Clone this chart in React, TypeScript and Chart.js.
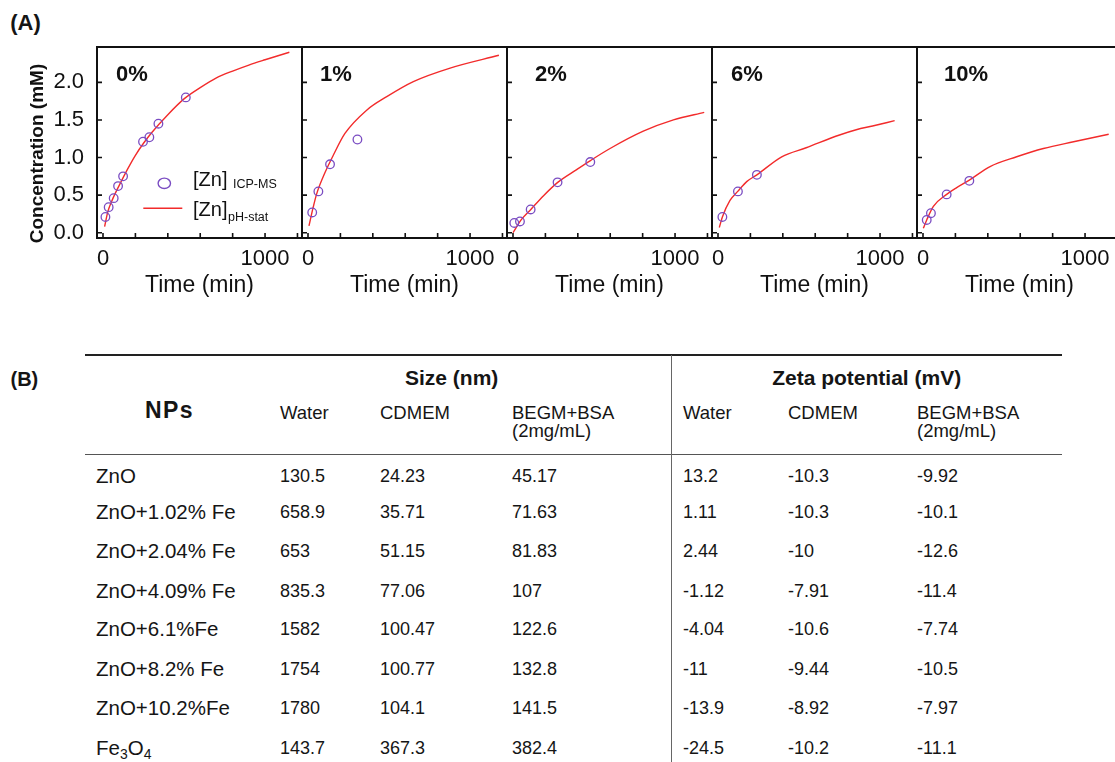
import React, { useEffect, useRef } from 'react';
import { Chart, registerables } from 'chart.js';

Chart.register(...registerables);

const FONT = '"Liberation Sans", Arial, Helvetica, sans-serif';
const RED = '#f22b2b';
const PURPLE = '#7a4cc2';
const INK = '#111111';

// ---------------- (A) dissolution kinetics data ----------------
const PANEL_LABELS = ['0%', '1%', '2%', '6%', '10%'];
const X_TICK_VALUES = [0, 200, 400, 600, 800, 1000, 1200];
const X_TICK_LABELED = [0, 1000];
const Y_TICK_VALUES = [0, 0.5, 1.0, 1.5, 2.0];

// 0 %
const ICP_TIME_0 = [15, 35, 66, 93, 124, 247, 286, 342, 511];
const ICP_CONC_0 = [0.21, 0.34, 0.46, 0.62, 0.75, 1.21, 1.27, 1.45, 1.80];
const PH_TIME_0 = [10, 30, 60, 100, 150, 200, 250, 300, 400, 500, 600, 700, 800, 900, 1000, 1150];
const PH_CONC_0 = [0.08, 0.28, 0.45, 0.63, 0.84, 1.03, 1.19, 1.33, 1.57, 1.78, 1.93, 2.06, 2.15, 2.23, 2.30, 2.40];

// 1 %
const ICP_TIME_1 = [26, 64, 136, 305];
const ICP_CONC_1 = [0.27, 0.55, 0.91, 1.24];
const PH_TIME_1 = [6, 30, 54, 105, 156, 228, 362, 486, 650, 877, 1178];
const PH_CONC_1 = [0.09, 0.32, 0.52, 0.80, 1.03, 1.32, 1.63, 1.81, 2.01, 2.19, 2.36];

// 2 %
const ICP_TIME_2 = [8, 43, 109, 275, 477];
const ICP_CONC_2 = [0.13, 0.15, 0.31, 0.67, 0.94];
const PH_TIME_2 = [0, 50, 110, 187, 276, 393, 478, 599, 804, 990, 1180];
const PH_CONC_2 = [0.0, 0.17, 0.31, 0.49, 0.67, 0.84, 0.96, 1.12, 1.35, 1.50, 1.60];

// 6 %
const ICP_TIME_6 = [27, 123, 240];
const ICP_CONC_6 = [0.21, 0.55, 0.77];
const PH_TIME_6 = [8, 27, 74, 122, 177, 240, 393, 544, 750, 853, 954, 1090];
const PH_CONC_6 = [0.07, 0.21, 0.43, 0.55, 0.68, 0.77, 1.01, 1.13, 1.30, 1.37, 1.42, 1.49];

// 10 %
const ICP_TIME_10 = [23, 49, 146, 286];
const ICP_CONC_10 = [0.17, 0.26, 0.51, 0.69];
const PH_TIME_10 = [2, 23, 64, 146, 208, 286, 414, 578, 743, 929, 1146];
const PH_CONC_10 = [0.06, 0.17, 0.35, 0.51, 0.60, 0.70, 0.88, 1.01, 1.12, 1.21, 1.31];

const PANELS = [
  { label: PANEL_LABELS[0], icpT: ICP_TIME_0, icpC: ICP_CONC_0, phT: PH_TIME_0, phC: PH_CONC_0 },
  { label: PANEL_LABELS[1], icpT: ICP_TIME_1, icpC: ICP_CONC_1, phT: PH_TIME_1, phC: PH_CONC_1 },
  { label: PANEL_LABELS[2], icpT: ICP_TIME_2, icpC: ICP_CONC_2, phT: PH_TIME_2, phC: PH_CONC_2 },
  { label: PANEL_LABELS[3], icpT: ICP_TIME_6, icpC: ICP_CONC_6, phT: PH_TIME_6, phC: PH_CONC_6 },
  { label: PANEL_LABELS[4], icpT: ICP_TIME_10, icpC: ICP_CONC_10, phT: PH_TIME_10, phC: PH_CONC_10 },
];

// ---------------- (B) table data ----------------
const NP_NAMES = ['ZnO', 'ZnO+1.02% Fe', 'ZnO+2.04% Fe', 'ZnO+4.09% Fe', 'ZnO+6.1%Fe', 'ZnO+8.2% Fe', 'ZnO+10.2%Fe', 'Fe3O4'];
const SIZE_WATER = [130.5, 658.9, 653, 835.3, 1582, 1754, 1780, 143.7];
const SIZE_CDMEM = [24.23, 35.71, 51.15, 77.06, 100.47, 100.77, 104.1, 367.3];
const SIZE_BEGM = [45.17, 71.63, 81.83, 107, 122.6, 132.8, 141.5, 382.4];
const ZETA_WATER = [13.2, 1.11, 2.44, -1.12, -4.04, -11, -13.9, -24.5];
const ZETA_CDMEM = [-10.3, -10.3, -10, -7.91, -10.6, -9.44, -8.92, -10.2];
const ZETA_BEGM = [-9.92, -10.1, -12.6, -11.4, -7.74, -10.5, -7.97, -11.1];
const MEDIA_HEADERS = ['Water', 'CDMEM', 'BEGM+BSA'];
const MEDIA_SUB = ['', '', '(2mg/mL)'];

// ---------------- layout ----------------
const PANEL_STEP = 205;
const AXIS_W = 97;
const PLOT_TOP = 47;
const CANVAS_W = 312;
const CANVAS_H = 300;
const X_AXIS_H = 62;
const LABEL_DX = [19, 18, 28, 19, 27];

const COL_X = [280, 380, 512, 683, 788, 917];
const NAME_X = 96;
const ROW_Y = [476, 511.5, 550.5, 590.5, 629, 669, 707.5, 747.5];

const decoPlugin = {
  id: 'deco',
  afterDraw(chart: any, _args: any, opts: any) {
    const { ctx, chartArea: a } = chart;
    const xs = chart.scales.x;
    const ys = chart.scales.y;
    ctx.save();
    ctx.strokeStyle = INK;
    ctx.lineWidth = 2;
    ctx.strokeRect(a.left, a.top, a.right - a.left, a.bottom - a.top);
    ctx.lineWidth = 1.6;
    ctx.beginPath();
    xs.ticks.forEach((t: any) => {
      const p = xs.getPixelForValue(t.value);
      ctx.moveTo(p, a.bottom);
      ctx.lineTo(p, a.bottom - 5);
    });
    ys.ticks.forEach((t: any) => {
      const p = ys.getPixelForValue(t.value);
      ctx.moveTo(a.left, p);
      ctx.lineTo(a.left + 5, p);
    });
    ctx.stroke();

    ctx.fillStyle = INK;
    ctx.font = `bold 22px ${FONT}`;
    ctx.textAlign = 'left';
    ctx.textBaseline = 'middle';
    ctx.fillText(opts.label, a.left + opts.labelDx, a.top + 28);

    if (opts.yTitle) {
      ctx.save();
      ctx.translate(38, 153.5);
      ctx.rotate(-Math.PI / 2);
      ctx.textAlign = 'center';
      ctx.textBaseline = 'middle';
      ctx.font = `bold 19px ${FONT}`;
      ctx.fillText(opts.yTitle, 0, 0);
      ctx.restore();
    }

    if (opts.legend) {
      const lx = a.left;
      const ly = a.top;
      ctx.strokeStyle = PURPLE;
      ctx.lineWidth = 1.4;
      ctx.beginPath();
      ctx.ellipse(lx + 67.3, ly + 136.3, 6.2, 5.2, 0, 0, Math.PI * 2);
      ctx.stroke();
      ctx.strokeStyle = RED;
      ctx.lineWidth = 1.4;
      ctx.beginPath();
      ctx.moveTo(lx + 46.3, ly + 161.3);
      ctx.lineTo(lx + 85.3, ly + 161.3);
      ctx.stroke();
      ctx.fillStyle = INK;
      ctx.textAlign = 'left';
      ctx.textBaseline = 'alphabetic';
      ctx.font = `20px ${FONT}`;
      ctx.fillText('[Zn]', lx + 96, ly + 138.5);
      ctx.font = `12.5px ${FONT}`;
      ctx.fillText('ICP-MS', lx + 136, ly + 141);
      ctx.font = `20px ${FONT}`;
      ctx.fillText('[Zn]', lx + 96, ly + 169);
      ctx.font = `12.5px ${FONT}`;
      ctx.fillText('pH-stat', lx + 131, ly + 174);
    }
    ctx.restore();
  },
};

function PanelChart({ idx }: { idx: number }) {
  const ref = useRef<HTMLCanvasElement | null>(null);
  useEffect(() => {
    if (!ref.current) return;
    const p = PANELS[idx];
    const chart = new Chart(ref.current, {
      type: 'scatter',
      data: {
        datasets: [
          {
            label: '[Zn] pH-stat',
            data: p.phT.map((t, i) => ({ x: t, y: p.phC[i] })),
            showLine: true,
            borderColor: RED,
            backgroundColor: RED,
            borderWidth: 1.4,
            pointRadius: 0,
            pointHoverRadius: 0,
            tension: 0.4,
            cubicInterpolationMode: 'monotone',
            order: 2,
          } as any,
          {
            label: '[Zn] ICP-MS',
            data: p.icpT.map((t, i) => ({ x: t, y: p.icpC[i] })),
            showLine: false,
            pointStyle: 'circle',
            pointRadius: 4.3,
            pointHoverRadius: 4.3,
            pointBorderWidth: 1.3,
            pointBorderColor: PURPLE,
            pointBackgroundColor: 'rgba(0,0,0,0)',
            borderColor: PURPLE,
            backgroundColor: 'rgba(0,0,0,0)',
            order: 1,
          } as any,
        ],
      },
      options: {
        responsive: false,
        animation: false,
        devicePixelRatio: 1,
        events: [],
        layout: { padding: { left: 0, top: PLOT_TOP, right: CANVAS_W - AXIS_W - PANEL_STEP, bottom: 0 } },
        plugins: {
          legend: { display: false },
          tooltip: { enabled: false },
          deco: {
            label: p.label,
            labelDx: LABEL_DX[idx],
            yTitle: idx === 0 ? 'Concentration (mM)' : '',
            legend: idx === 0,
          },
        } as any,
        scales: {
          x: {
            type: 'linear',
            min: -37,
            max: 1228,
            grid: { display: false },
            border: { display: false },
            afterBuildTicks: (s: any) => {
              s.ticks = X_TICK_VALUES.map((v) => ({ value: v }));
            },
            afterFit: (s: any) => {
              s.height = X_AXIS_H;
            },
            ticks: {
              autoSkip: false,
              maxRotation: 0,
              minRotation: 0,
              padding: 0,
              color: INK,
              font: { family: FONT, size: 22 },
              callback: (v: any) => (X_TICK_LABELED.includes(Number(v)) ? String(v) : ''),
            },
            title: {
              display: true,
              text: 'Time (min)',
              color: INK,
              font: { family: FONT, size: 23 },
              padding: { top: 0, bottom: 1 },
            },
          },
          y: {
            type: 'linear',
            min: -0.07,
            max: 2.47,
            grid: { display: false },
            border: { display: false },
            afterBuildTicks: (s: any) => {
              s.ticks = Y_TICK_VALUES.map((v) => ({ value: v }));
            },
            afterFit: (s: any) => {
              s.width = AXIS_W;
            },
            ticks: {
              display: idx === 0,
              padding: 5,
              color: INK,
              font: { family: FONT, size: 22 },
              callback: (v: any) => Number(v).toFixed(1),
            },
          },
        },
      } as any,
      plugins: [decoPlugin as any],
    });
    return () => chart.destroy();
  }, [idx]);
  return (
    <canvas
      ref={ref}
      width={CANVAS_W}
      height={CANVAS_H}
      style={{ position: 'absolute', left: idx * PANEL_STEP, top: 0, width: CANVAS_W, height: CANVAS_H }}
    />
  );
}

function T({ x, y, size, bold, center, spacing, children }: any) {
  return (
    <div
      style={{
        position: 'absolute',
        left: x,
        top: y,
        transform: `translate(${center ? '-50%' : '0'}, -50%)`,
        fontFamily: FONT,
        fontSize: size,
        fontWeight: bold ? 'bold' : 'normal',
        letterSpacing: spacing || 0,
        lineHeight: 1,
        whiteSpace: 'nowrap',
        color: '#151515',
      }}
    >
      {children}
    </div>
  );
}

function renderName(n: string) {
  if (n.includes('+')) return n;
  return n.split(/(\d+)/).map((s, i) =>
    i % 2 ? (
      <span key={i} style={{ fontSize: '0.68em', verticalAlign: '-0.3em', lineHeight: 0 }}>
        {s}
      </span>
    ) : (
      <React.Fragment key={i}>{s}</React.Fragment>
    )
  );
}

function Table() {
  const cols = [SIZE_WATER, SIZE_CDMEM, SIZE_BEGM, ZETA_WATER, ZETA_CDMEM, ZETA_BEGM];
  return (
    <>
      <div style={{ position: 'absolute', left: 85, top: 354, width: 977, height: 2, background: '#222' }} />
      <div style={{ position: 'absolute', left: 85, top: 453.5, width: 977, height: 1.3, background: '#555' }} />
      <div style={{ position: 'absolute', left: 671, top: 355, width: 1.2, height: 407, background: '#666' }} />
      <T x={10.5} y={379} size={20} bold>(B)</T>
      <T x={451.7} y={377} size={21} bold center>Size (nm)</T>
      <T x={866.7} y={377} size={21} bold center>Zeta potential (mV)</T>
      <T x={169.5} y={410} size={23} bold center spacing={1.5}>NPs</T>
      {COL_X.map((x, c) => (
        <React.Fragment key={'h' + c}>
          <T x={x} y={413} size={18.5}>{MEDIA_HEADERS[c % 3]}</T>
          {MEDIA_SUB[c % 3] ? <T x={x} y={430.5} size={18.5}>{MEDIA_SUB[c % 3]}</T> : null}
        </React.Fragment>
      ))}
      {NP_NAMES.map((n, r) => (
        <React.Fragment key={'r' + r}>
          <T x={NAME_X} y={ROW_Y[r]} size={20.5}>{renderName(n)}</T>
          {cols.map((col, c) => (
            <T key={c} x={COL_X[c]} y={ROW_Y[r]} size={18}>{String(col[r])}</T>
          ))}
        </React.Fragment>
      ))}
    </>
  );
}

export default function App() {
  return (
    <div
      style={{
        position: 'fixed',
        left: 0,
        top: 0,
        width: 1115,
        height: 762,
        overflow: 'hidden',
        background: '#fff',
      }}
    >
      <T x={10.3} y={23} size={22} bold>(A)</T>
      {PANELS.map((_, i) => (
        <PanelChart key={i} idx={i} />
      ))}
      <Table />
    </div>
  );
}
